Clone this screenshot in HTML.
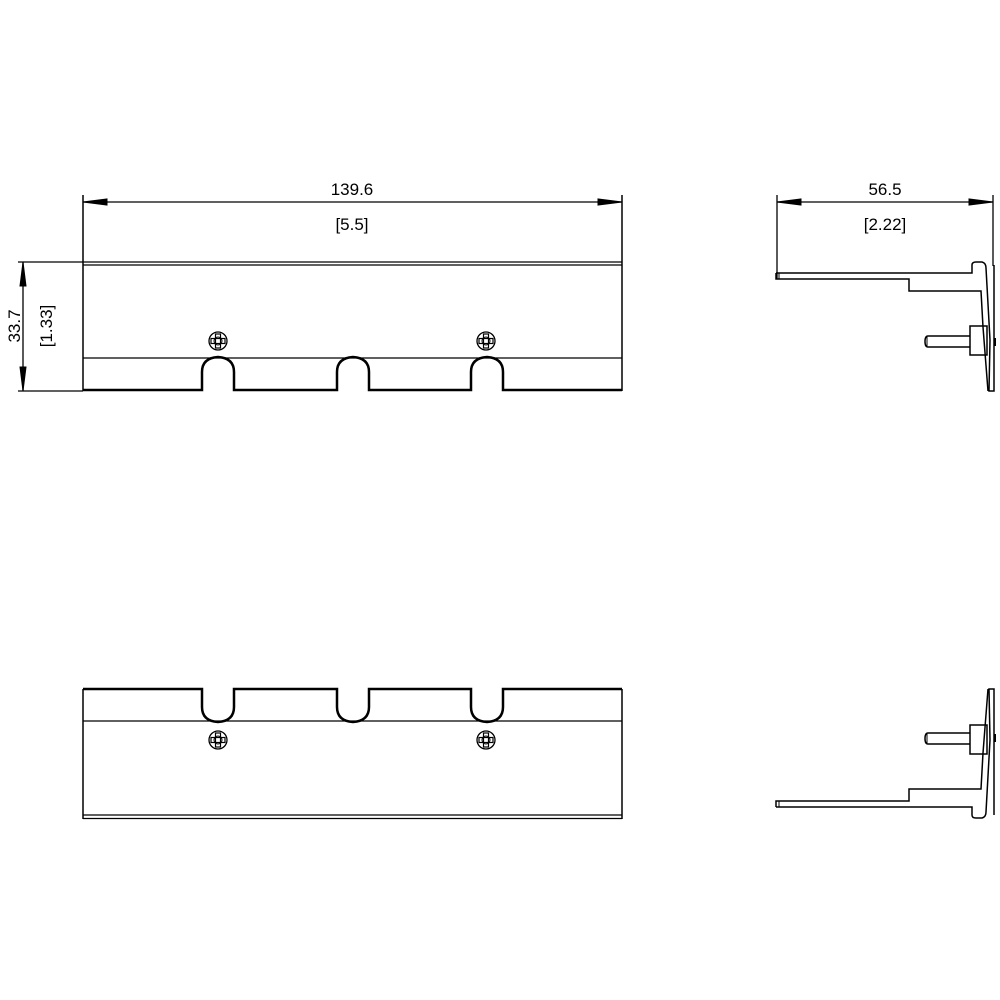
<!DOCTYPE html>
<html><head><style>html,body{margin:0;padding:0;background:#fff}svg{display:block}</style></head>
<body>
<svg width="1000" height="1000" viewBox="0 0 1000 1000" xmlns="http://www.w3.org/2000/svg">
<defs>
<g id="screw">
<circle cx="0" cy="0" r="9" fill="none" stroke="#000" stroke-width="1.3"/>
<rect x="-7" y="-2.5" width="14" height="5" fill="none" stroke="#000" stroke-width="1.2"/>
<rect x="-2.5" y="-7" width="5" height="14" fill="none" stroke="#000" stroke-width="1.2"/>
<circle cx="0" cy="0" r="4" fill="none" stroke="#000" stroke-width="1"/>
</g>
<g id="side" fill="none" stroke="#000" stroke-width="1.5">
<path d="M776,273 H972 V265 Q972,262 976,262 H982 Q986,263 986,268 L990,340 L989,391 H994 V265"/>
<path d="M776,273 V279 H909 V291 H981 L983,327"/>
<line x1="779" y1="273" x2="779" y2="279" stroke-width="1"/>
<path d="M983,327 L988,391"/>
<rect x="970" y="326" width="17" height="29"/>
<path d="M970,336 H928 Q925,336 925,341.5 Q925,347 928,347 H970"/>
<line x1="927" y1="337" x2="927" y2="346" stroke-width="1"/>
<line x1="995" y1="338" x2="995" y2="346" stroke-width="2"/>
</g>
</defs>
<g fill="none" stroke="#000">
<!-- top front view -->
<line x1="83" y1="195" x2="83" y2="391" stroke-width="1.5"/>
<line x1="622" y1="195" x2="622" y2="391" stroke-width="1.5"/>
<line x1="83" y1="202" x2="622" y2="202" stroke-width="1.3"/>
<path d="M83,202 L107,199 V205 Z" fill="#000"/>
<path d="M622,202 L598,199 V205 Z" fill="#000"/>
<line x1="18" y1="262" x2="622" y2="262" stroke-width="1.3"/>
<line x1="83" y1="265" x2="622" y2="265" stroke-width="1.3"/>
<line x1="83" y1="358" x2="622" y2="358" stroke-width="1.3"/>
<line x1="18" y1="391" x2="83" y2="391" stroke-width="1.3"/>
<path d="M83,390 H202 V372 Q202,358 218,357 Q234,358 234,372 V390 H337 V372 Q337,358 353,357 Q369,358 369,372 V390 H471 V372 Q471,358 487,357 Q503,358 503,372 V390 H622" stroke-width="2.5"/>
<line x1="23" y1="262" x2="23" y2="391" stroke-width="1.3"/>
<path d="M23,262 L20,286 H26 Z" fill="#000"/>
<path d="M23,391 L20,367 H26 Z" fill="#000"/>
<!-- bottom front view -->
<path d="M83,689 H202 V707 Q202,721 218,722 Q234,721 234,707 V689 H337 V707 Q337,721 353,722 Q369,721 369,707 V689 H471 V707 Q471,721 487,722 Q503,721 503,707 V689 H622" stroke-width="2.5"/>
<line x1="83" y1="689" x2="83" y2="819" stroke-width="1.5"/>
<line x1="622" y1="689" x2="622" y2="819" stroke-width="1.5"/>
<line x1="83" y1="721" x2="622" y2="721" stroke-width="1.3"/>
<line x1="83" y1="815" x2="622" y2="815" stroke-width="1.3"/>
<line x1="83" y1="818.5" x2="622" y2="818.5" stroke-width="1.3"/>
<!-- side dims -->
<line x1="777" y1="195" x2="777" y2="279" stroke-width="1.3"/>
<line x1="993" y1="195" x2="993" y2="266" stroke-width="1.3"/>
<line x1="777" y1="202" x2="993" y2="202" stroke-width="1.3"/>
<path d="M777,202 L801,199 V205 Z" fill="#000"/>
<path d="M993,202 L969,199 V205 Z" fill="#000"/>
</g>
<use href="#screw" x="218" y="341"/>
<use href="#screw" x="486" y="341"/>
<use href="#screw" x="218" y="740"/>
<use href="#screw" x="486" y="740"/>
<use href="#side"/>
<use href="#side" transform="translate(0,1080) scale(1,-1)"/>
<g font-family="Liberation Sans, sans-serif" font-size="17" fill="#000" text-anchor="middle">
<text x="352" y="195">139.6</text>
<text x="352" y="230">[5.5]</text>
<text x="885" y="195">56.5</text>
<text x="885" y="230">[2.22]</text>
<text transform="translate(20,326) rotate(-90)">33.7</text>
<text transform="translate(52,326) rotate(-90)">[1.33]</text>
</g>
</svg>
</body></html>
